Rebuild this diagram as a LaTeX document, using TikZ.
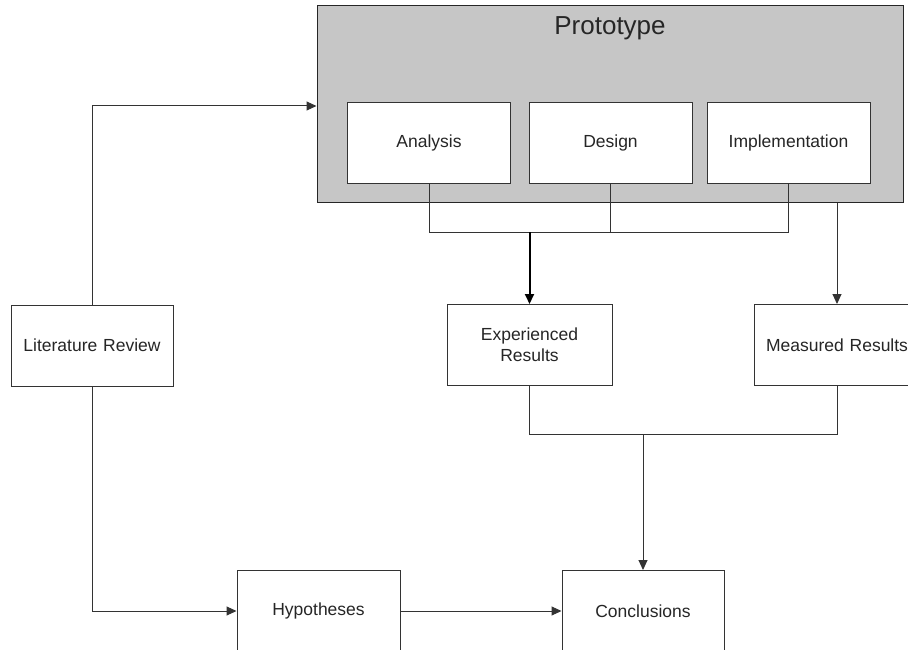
\documentclass[tikz,border=0pt]{standalone}
\usepackage{fontspec}
\setmainfont{Liberation Sans}
\usetikzlibrary{arrows.meta}
\begin{document}
\begin{tikzpicture}[x=1pt,y=-1pt,
  line width=1pt,
  every node/.style={font=\fontsize{17.5}{21}\selectfont, text=black!85},
  box/.style={draw=black!80, fill=white, minimum width=163pt, minimum height=81pt,
              inner sep=2pt, align=center, text width=155pt},
  link/.style={draw=black!80, line width=1pt},
  arr/.style={link, -{Triangle[length=10pt,width=9pt]}},
  boldarr/.style={draw=black, line width=2pt, -{Triangle[length=10pt,width=9pt]}}]
  \useasboundingbox (0,0) rectangle (908,650);
  % prototype container
  \node[draw=black!85, fill=gray!45, minimum width=586pt, minimum height=196pt,
        inner sep=0pt] (proto) at (610,104) {};
  \node[font=\fontsize{26}{30}\selectfont] (ptitle) at (610,28) {Prototype};
  \node[box] (ana) at (429,143) {Analysis};
  \node[box] (des) at (610.5,143) {Design};
  \node[box] (imp) at (788.5,143) {Implementation};
  % results
  \node[box, minimum width=165pt] (exp) at (529.5,345) {Experienced\\Results};
  \node[box, minimum width=166pt] (meas) at (837,345) {Measured Results};
  % left column and bottom row
  \node[box, minimum width=162pt] (lit) at (92,345.5) {Literature Review};
  \node[box] (hyp) at (318.5,611) {Hypotheses};
  \node[box, minimum width=162pt] (concl) at (643,611) {Conclusions};
  % bus lines
  \coordinate (busA) at (0,232);
  \coordinate (busB) at (0,434);
  \coordinate (entry) at (0,106);
  \draw[link] (ana.south) -- (ana.south |- busA) -| (imp.south);
  \draw[link] (des.south) -- (des.south |- busA);
  \draw[boldarr] (exp.north |- busA) -- (exp.north);
  \draw[arr] (proto.south -| meas.north) -- (meas.north);
  \draw[link] (exp.south) -- (exp.south |- busB) -| (meas.south);
  \draw[arr] (concl.north |- busB) -- (concl.north);
  % literature review paths
  \draw[arr] (lit.north) |- (proto.west |- entry);
  \draw[arr] (lit.south) |- (hyp.west);
  \draw[arr] (hyp.east) -- (concl.west);
\end{tikzpicture}
\end{document}
